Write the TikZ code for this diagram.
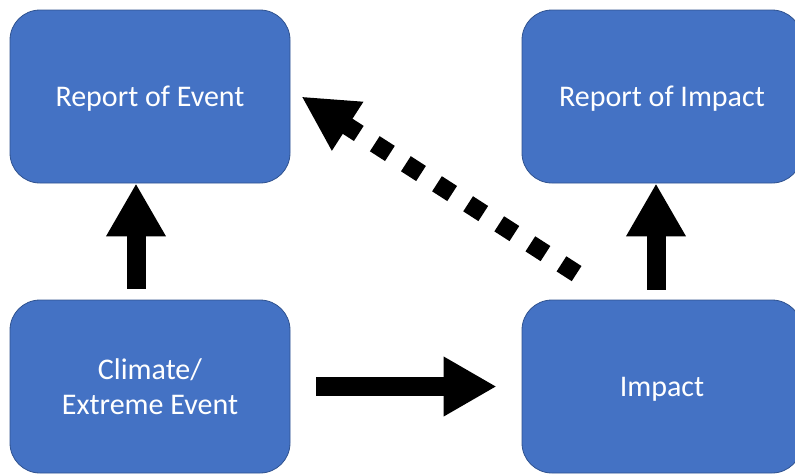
\documentclass[tikz,border=0pt]{standalone}
\usepackage{fontspec}
\setmainfont{Carlito}
\usetikzlibrary{arrows.meta}
\definecolor{boxfill}{HTML}{4472C4}
\definecolor{boxline}{HTML}{2F528F}
\tikzset{
  box/.style={draw=boxline, line width=0.8pt, fill=boxfill, rounded corners=30pt,
    minimum width=280pt, minimum height=173pt, inner sep=0pt, text=white,
    align=center, text depth=0pt, font=\fontsize{30}{35}\selectfont},
  blockarrow/.style={line width=19pt, draw=black,
    -{Triangle[width=56pt,length=53pt]}},
  dasharrow/.style={line width=18pt, draw=black, dash pattern=on 18pt off 19pt,
    -{Triangle[width=54pt,length=55pt]}}
}
\begin{document}
\begin{tikzpicture}[x=1pt,y=-1pt]
\useasboundingbox (0,0) rectangle (795,475);
\node[box] (re) at (150,96.5) {Report of Event};
\node[box] (ri) at (662,96.5) {Report of Impact};
\node[box] (cl) at (150,386.5) {Climate/\\Extreme Event};
\node[box] (im) at (662,386.5) {Impact};
\coordinate (a1s) at ([xshift=-14pt,yshift=11pt]cl.north);
\coordinate (a1e) at ([xshift=-14pt]re.south);
\coordinate (a2s) at ([xshift=-6pt,yshift=10pt]im.north);
\coordinate (a2e) at ([xshift=-6pt]ri.south);
\coordinate (a3s) at ([xshift=26pt]cl.east);
\coordinate (a3e) at ([xshift=-25pt]im.west);
\coordinate (a4s) at ([xshift=55pt,yshift=26pt]im.north west);
\coordinate (a4e) at ([xshift=11pt]re.east);
\draw[blockarrow] (a1s) -- (a1e);
\draw[blockarrow] (a2s) -- (a2e);
\draw[blockarrow] (a3s) -- (a3e);
\draw[dasharrow] (a4s) -- (a4e);
\end{tikzpicture}
\end{document}
